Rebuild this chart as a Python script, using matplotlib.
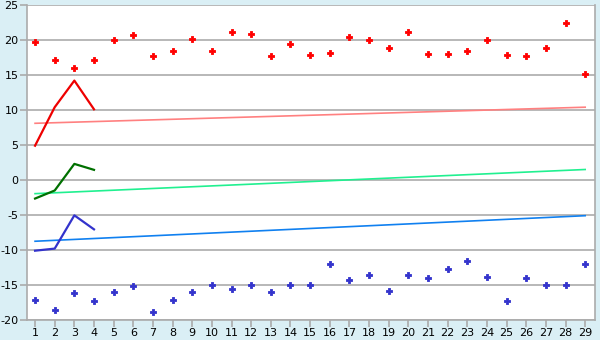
import matplotlib
matplotlib.use("Agg")
import matplotlib.pyplot as plt
import numpy as np

plt.rcParams["axes.unicode_minus"] = False

x = list(range(1, 30))
red_points = [19.7, 17.1, 16.0, 17.1, 20.0, 20.7, 17.7, 18.4, 20.1, 18.4,
              21.2, 20.8, 17.7, 19.4, 17.8, 18.2, 20.5, 20.0, 18.8, 21.1,
              18.0, 18.0, 18.5, 20.0, 17.8, 17.7, 18.8, 22.4, 15.1]
blue_points = [-17.1, -18.5, -16.2, -17.3, -16.0, -15.2, -18.9, -17.1, -16.0, -15.0,
               -15.5, -15.0, -16.0, -15.0, -15.0, -12.0, -14.3, -13.6, -15.8, -13.6,
               -14.0, -12.7, -11.6, -13.9, -17.3, -14.0, -15.0, -15.0, -12.0]
line_x = [1, 2, 3, 4]
red_line = [4.9, 10.4, 14.2, 10.1]
green_line = [-2.65, -1.5, 2.3, 1.45]
blue_line = [-10.1, -9.8, -5.05, -7.05]
trend_x = [1, 29]
red_trend = [8.1, 10.4]
green_trend = [-1.95, 1.5]
blue_trend = [-8.75, -5.1]
yticks = [-20, -15, -10, -5, 0, 5, 10, 15, 20, 25]

bg = "#DAEFF5"
grid = "#ABABAB"
fig = plt.figure(figsize=(6, 3.4), dpi=100, facecolor=bg)
ax = fig.add_axes([27/600, 20/340, 568/600, 315/340])
ax.set_facecolor("white")

for yv in yticks:
    ax.axhline(yv, color=grid, lw=1.2, zorder=1)

ax.plot(trend_x, red_trend, color="#FF8080", lw=1.2, zorder=2)
ax.plot(trend_x, green_trend, color="#20F090", lw=1.2, zorder=2)
ax.plot(trend_x, blue_trend, color="#1080F0", lw=1.2, zorder=2)

ax.plot(line_x, red_line, color="#EE0000", lw=1.6, zorder=3)
ax.plot(line_x, green_line, color="#007000", lw=1.6, zorder=3)
ax.plot(line_x, blue_line, color="#3333CC", lw=1.6, zorder=3)

ax.scatter(x, red_points, marker="P", s=18, color="#FF0000",
           edgecolors="#FF0000", linewidths=0.6, zorder=4)
ax.scatter(x, blue_points, marker="P", s=18, color="#3333CC",
           edgecolors="#3333CC", linewidths=0.6, zorder=4)

ax.set_xlim(0.59, 29.5)
ax.set_ylim(-20, 25)
ax.set_xticks(x)
ax.set_yticks(yticks)
ax.tick_params(axis="both", colors=grid, labelcolor="black", labelsize=8,
               length=5, width=1.2, pad=1)
ax.spines["top"].set_visible(False)
for s in ["left", "right", "bottom"]:
    ax.spines[s].set_color(grid)
    ax.spines[s].set_linewidth(1.2)

fig.savefig("out.png", dpi=100, facecolor=bg)
